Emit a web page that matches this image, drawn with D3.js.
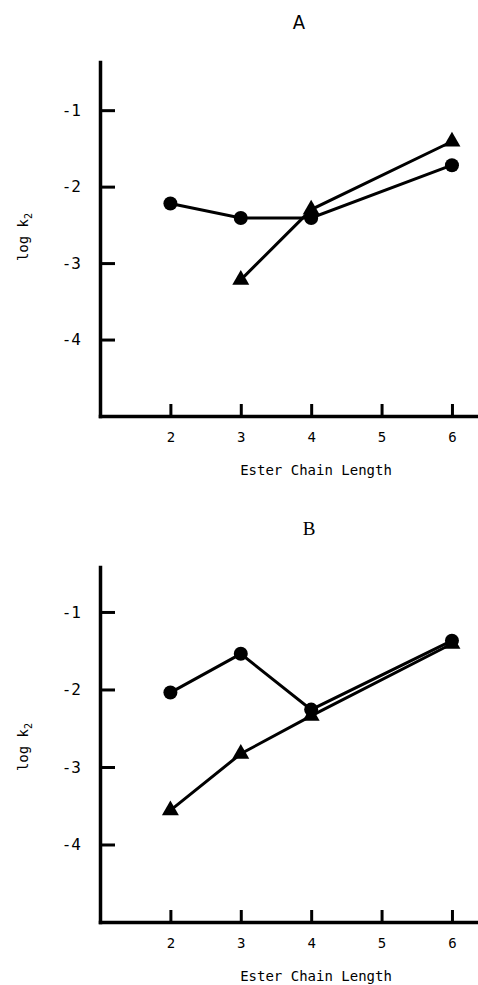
<!DOCTYPE html>
<html lang="en">
<head>
  <meta charset="UTF-8">
  <title>log k2 vs Ester Chain Length</title>
  <script src="https://d3js.org/d3.v7.min.js"></script>
  <style>
    body { margin: 0; background: #fff; }
    .tick-y text { font-family: "DejaVu Sans Mono", monospace; font-size: 16px; fill: #000; }
    .tick-x text { font-family: "DejaVu Sans Mono", monospace; font-size: 14px; fill: #000; }
    .axis-label { font-family: "DejaVu Sans Mono", monospace; font-size: 14px; fill: #000; }
  </style>
</head>
<body>
  <div id="chart"></div>
  <script>
    const width = 478;
    const height = 985;

    // values
    const xTicks = [2, 3, 4, 5, 6];
    const yTicks = [-1, -2, -3, -4];
    const xLabel = "Ester Chain Length";

    const panelACircleX = [2, 3, 4, 6];
    const panelACircleY = [-2.22, -2.41, -2.41, -1.72];
    const panelATriangleX = [3, 4, 6];
    const panelATriangleY = [-3.22, -2.30, -1.41];

    const panelBCircleX = [2, 3, 4, 6];
    const panelBCircleY = [-2.04, -1.54, -2.26, -1.37];
    const panelBTriangleX = [2, 3, 4, 6];
    const panelBTriangleY = [-3.56, -2.83, -2.34, -1.41];

    const svg = d3.select("#chart")
      .append("svg")
      .attr("width", width)
      .attr("height", height);

    function drawPanel(p) {
      const x = d3.scaleLinear().domain([1, 6.37]).range([100, 478]);
      const y = d3.scaleLinear().domain(p.yDomain).range([p.bottom, p.top]);

      const g = svg.append("g");

      // title
      g.append("text")
        .attr("x", p.titleX)
        .attr("y", p.titleY)
        .attr("text-anchor", "middle")
        .style("font-family", p.titleFont)
        .style("font-size", p.titleSize)
        .text(p.title);

      const yAxis = g.append("g")
        .attr("class", "tick-y")
        .attr("transform", "translate(100,0)")
        .call(d3.axisLeft(y).tickValues(yTicks).tickSizeInner(-15).tickSizeOuter(0).tickPadding(19)
          .tickFormat(d => String(d)));
      yAxis.select(".domain").attr("stroke-width", 3.5).attr("stroke-linecap", "square");
      yAxis.selectAll(".tick line").attr("stroke-width", 3);

      const xAxis = g.append("g")
        .attr("class", "tick-x")
        .attr("transform", `translate(0,${p.bottom})`)
        .call(d3.axisBottom(x).tickValues(xTicks).tickSizeInner(-12).tickSizeOuter(0).tickPadding(16)
          .tickFormat(d => String(d)));
      xAxis.select(".domain").attr("stroke-width", 3.5).attr("stroke-linecap", "square");
      xAxis.selectAll(".tick line").attr("stroke-width", 3);

      g.append("text")
        .attr("class", "axis-label")
        .attr("x", 316)
        .attr("y", p.bottom + 59)
        .attr("text-anchor", "middle")
        .text(xLabel);

      const yl = g.append("text")
        .attr("class", "axis-label")
        .attr("transform", `translate(28,${p.yLabelY}) rotate(-90)`)
        .attr("text-anchor", "middle");
      yl.append("tspan").text("log k");
      yl.append("tspan").attr("dy", 4).style("font-size", "10px").text("2");

      const line = d3.line().x(d => x(d[0])).y(d => y(d[1]));

      const circles = d3.zip(p.circleX, p.circleY);
      const triangles = d3.zip(p.triX, p.triY);

      g.append("path")
        .datum(circles)
        .attr("d", line)
        .attr("fill", "none")
        .attr("stroke", "#000")
        .attr("stroke-width", 3);

      g.append("path")
        .datum(triangles)
        .attr("d", line)
        .attr("fill", "none")
        .attr("stroke", "#000")
        .attr("stroke-width", 3);

      g.selectAll(".dot")
        .data(circles)
        .enter()
        .append("circle")
        .attr("cx", d => x(d[0]))
        .attr("cy", d => y(d[1]))
        .attr("r", 7)
        .attr("fill", "#000");

      g.selectAll(".tri")
        .data(triangles)
        .enter()
        .append("path")
        .attr("d", d3.symbol().type(d3.symbolTriangle).size(125))
        .attr("transform", d => `translate(${x(d[0])},${y(d[1])})`)
        .attr("fill", "#000");
    }

    drawPanel({
      title: "A", titleX: 299, titleY: 29, titleSize: "20px",
      titleFont: "'DejaVu Sans Condensed', 'Liberation Sans Narrow', sans-serif",
      top: 62, bottom: 416, yDomain: [-5, -0.37], yLabelY: 237,
      circleX: panelACircleX, circleY: panelACircleY,
      triX: panelATriangleX, triY: panelATriangleY
    });

    drawPanel({
      title: "B", titleX: 309, titleY: 535, titleSize: "19px",
      titleFont: "'Liberation Serif', serif",
      top: 567, bottom: 922, yDomain: [-5, -0.42], yLabelY: 747,
      circleX: panelBCircleX, circleY: panelBCircleY,
      triX: panelBTriangleX, triY: panelBTriangleY
    });
  </script>
</body>
</html>
